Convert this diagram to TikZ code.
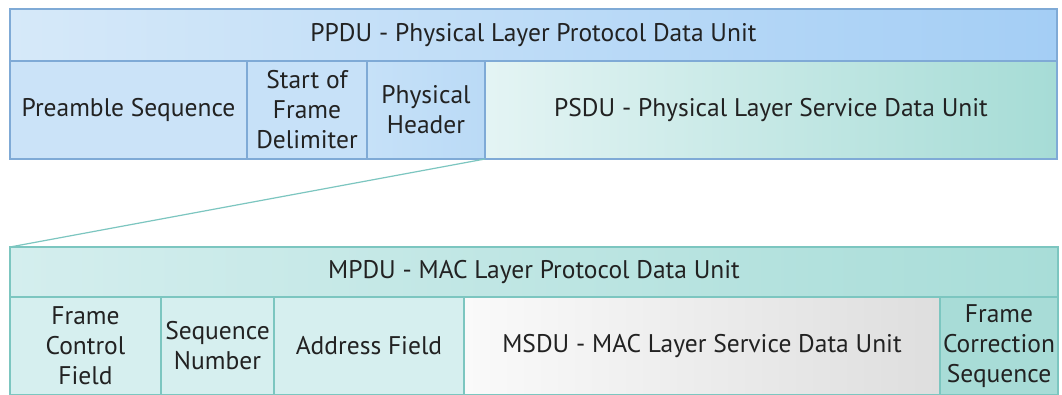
\documentclass[tikz,border=0pt]{standalone}
\usepackage{fontspec}
\setmainfont{PT Sans}
\usetikzlibrary{shadings}
\definecolor{blueline}{HTML}{7FAAD6}
\definecolor{tealline}{HTML}{7CC6C0}
\definecolor{txt}{HTML}{222222}
\definecolor{ppduL}{RGB}{214,233,249}
\definecolor{ppduR}{RGB}{164,206,245}
\definecolor{preF}{RGB}{203,227,248}
\definecolor{sfdF}{RGB}{199,225,248}
\definecolor{phyL}{RGB}{198,225,248}
\definecolor{phyR}{RGB}{186,218,246}
\definecolor{psduL}{RGB}{228,244,244}
\definecolor{psduR}{RGB}{166,220,214}
\definecolor{mpduL}{RGB}{212,238,238}
\definecolor{mpduR}{RGB}{168,221,216}
\definecolor{fldF}{RGB}{214,239,239}
\definecolor{msduL}{RGB}{250,250,250}
\definecolor{msduR}{RGB}{222,222,222}
\definecolor{fcsF}{RGB}{168,220,215}
\begin{document}
\begin{tikzpicture}[x=1pt,y=-1pt,
  cell/.style={rectangle,anchor=north west,inner sep=0pt,outer sep=0pt,
    line width=1.2pt,align=center,text=txt,
    font=\fontsize{25.5}{30}\selectfont},
  bluecell/.style={cell,draw=blueline},
  tealcell/.style={cell,draw=tealline}]
\useasboundingbox (0,0) rectangle (1062,394);
\clip (0,0) rectangle (1062,394);
\fill[white] (0,0) rectangle (1062,394);
% top block
\node[bluecell,minimum width=1047pt,minimum height=52pt,left color=ppduL,right color=ppduR]
  (ppdu) at (10,9) {PPDU - Physical Layer Protocol Data Unit};
\node[bluecell,minimum width=237pt,minimum height=98pt,fill=preF]
  (pre) at (10,61) {Preamble Sequence};
\node[bluecell,minimum width=120pt,minimum height=98pt,fill=sfdF]
  (sfd) at (247,61) {Start of\\Frame\\Delimiter};
\node[bluecell,minimum width=118pt,minimum height=98pt,left color=phyL,right color=phyR]
  (phy) at (367,61) {Physical\\Header};
\node[bluecell,minimum width=572pt,minimum height=98pt,left color=psduL,right color=psduR]
  (psdu) at (485,61) {PSDU - Physical Layer Service Data Unit};
% bottom block
\node[tealcell,minimum width=1048pt,minimum height=50pt,left color=mpduL,right color=mpduR]
  (mpdu) at (10,247) {MPDU - MAC Layer Protocol Data Unit};
\node[tealcell,minimum width=151pt,minimum height=98pt,fill=fldF]
  (fcf) at (10,297) {Frame\\Control\\Field};
\node[tealcell,minimum width=113pt,minimum height=98pt,fill=fldF]
  (seq) at (161,297) {Sequence\\Number};
\node[tealcell,minimum width=190pt,minimum height=98pt,fill=fldF]
  (addr) at (274,297) {Address Field};
\node[tealcell,minimum width=476pt,minimum height=98pt,left color=msduL,right color=msduR]
  (msdu) at (464,297) {MSDU - MAC Layer Service Data Unit};
\node[tealcell,minimum width=118pt,minimum height=98pt,fill=fcsF]
  (fcs) at (940,297) {Frame\\Correction\\Sequence};
% zoom line
\draw[tealline,line width=1.2pt] (phy.south east) -- (mpdu.north west);
\end{tikzpicture}
\end{document}
